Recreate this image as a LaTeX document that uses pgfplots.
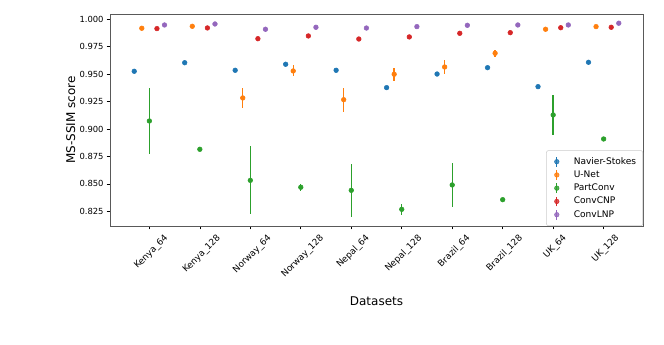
\documentclass[border=0pt]{standalone}
\usepackage{fontspec}
\setmainfont{DejaVu Sans}
\usepackage{graphicx}
\usepackage{pgfplots}
\pgfplotsset{compat=1.18}
\definecolor{c1}{HTML}{1F77B4}
\definecolor{c2}{HTML}{FF7F0E}
\definecolor{c3}{HTML}{2CA02C}
\definecolor{c4}{HTML}{D62728}
\definecolor{c5}{HTML}{9467BD}
\begin{document}
\begin{tikzpicture}
\begin{axis}[
  name=ax,
  scale only axis,
  width=399.75pt, height=159pt,
  xmin=-0.78, xmax=9.78,
  ymin=0.8116, ymax=1.0048,
  axis line style={black!65, line width=0.6pt},
  tick align=outside,
  major tick length=2.6pt,
  tick style={black, line width=0.5pt},
  xtick pos=bottom, ytick pos=left,
  xtick={0,1,2,3,4,5,6,7,8,9},
  xticklabels={\rotatebox{45}{Kenya\_64},\rotatebox{45}{Kenya\_128},\rotatebox{45}{Norway\_64},\rotatebox{45}{Norway\_128},\rotatebox{45}{Nepal\_64},\rotatebox{45}{Nepal\_128},\rotatebox{45}{Brazil\_64},\rotatebox{45}{Brazil\_128},\rotatebox{45}{UK\_64},\rotatebox{45}{UK\_128}},
  xticklabel style={anchor=north, font=\fontsize{6.7}{7.5}\selectfont, inner sep=1pt, yshift=-2pt, xshift=1.5pt},
  ytick={0.825,0.85,0.875,0.9,0.925,0.95,0.975,1.0},
  scaled y ticks=false,
  yticklabel style={/pgf/number format/.cd, fixed, fixed zerofill, precision=3, /tikz/.cd, font=\fontsize{6.3}{7.5}\selectfont, inner sep=2pt},
  /pgf/number format/assume math mode=true,
  xlabel={Datasets},
  ylabel={MS-SSIM score},
  xlabel style={at={(axis description cs:0.5,0)}, anchor=center, yshift=-56.25pt, font=\fontsize{9}{10}\selectfont},
  ylabel style={at={(axis description cs:0,0.5)}, anchor=center, yshift=29.5pt, font=\fontsize{9}{10}\selectfont},
  legend style={at={(axis description cs:1,0)}, anchor=south east, draw=black!20, fill=white, fill opacity=0.8, text opacity=1, font=\fontsize{6.8}{8}\selectfont, row sep=-0.6pt, inner sep=3pt, rounded corners=1.5pt},
  legend cell align=left,
  legend image code/.code={\path (0cm,0cm) (0.53cm,0cm); \draw[line width=1.05pt] (0.16cm,-0.13cm) -- (0.16cm,0.13cm); \fill (0.16cm,0cm) circle (1.7pt);},
  error bars/y dir=both, error bars/y explicit, error bars/error mark=none,
]
\addplot[c1, only marks, mark=*, mark size=1.75pt, mark options={c1, solid}, error bars/error bar style={c1, line width=1.05pt}] table[y error=e] {
x y e
-0.3 0.9526 0
0.7 0.9604 0
1.7 0.9535 0
2.7 0.9590 0
3.7 0.9535 0
4.7 0.9377 0
5.7 0.9501 0
6.7 0.9559 0
7.7 0.9386 0
8.7 0.9608 0
};
\addlegendentry{Navier-Stokes}
\addplot[c2, only marks, mark=*, mark size=1.75pt, mark options={c2, solid}, error bars/error bar style={c2, line width=1.05pt}] table[y error=e] {
x y e
-0.15 0.9918 0
0.85 0.9936 0
1.85 0.9283 0.009
2.85 0.9529 0.005
3.85 0.9267 0.011
4.85 0.9499 0.006
5.85 0.9565 0.006
6.85 0.9690 0.003
7.85 0.9909 0
8.85 0.9933 0
};
\addlegendentry{U-Net}
\addplot[c3, only marks, mark=*, mark size=1.75pt, mark options={c3, solid}, error bars/error bar style={c3, line width=1.05pt}] table[y error=e] {
x y e
0 0.9073 0.030
1 0.8815 0.001
2 0.8532 0.031
3 0.8469 0.003
4 0.8441 0.024
5 0.8268 0.005
6 0.8490 0.020
7 0.8356 0.001
8 0.9128 0.018
9 0.8909 0.001
};
\addlegendentry{PartConv}
\addplot[c4, only marks, mark=*, mark size=1.75pt, mark options={c4, solid}, error bars/error bar style={c4, line width=1.05pt}] table[y error=e] {
x y e
0.15 0.9915 0
1.15 0.9921 0
2.15 0.9823 0
3.15 0.9848 0
4.15 0.9820 0
5.15 0.9839 0
6.15 0.9872 0
7.15 0.9878 0
8.15 0.9923 0
9.15 0.9927 0
};
\addlegendentry{ConvCNP}
\addplot[c5, only marks, mark=*, mark size=1.75pt, mark options={c5, solid}, error bars/error bar style={c5, line width=1.05pt}] table[y error=e] {
x y e
0.3 0.9948 0
1.3 0.9957 0
2.3 0.9909 0
3.3 0.9927 0
4.3 0.9920 0
5.3 0.9933 0
6.3 0.9945 0
7.3 0.9948 0
8.3 0.9948 0
9.3 0.9964 0
};
\addlegendentry{ConvLNP}
\end{axis}
\pgfresetboundingbox
\path ([shift={(-82.5pt,-89.25pt)}]ax.south west) rectangle ([shift={(15.75pt,10.5pt)}]ax.north east);
\end{tikzpicture}
\end{document}
